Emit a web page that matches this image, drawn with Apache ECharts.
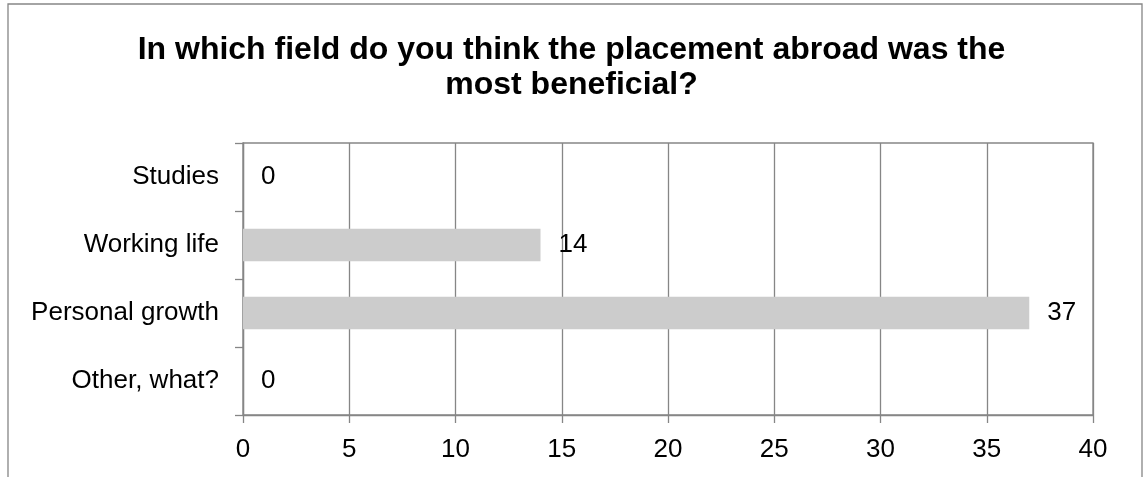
<!DOCTYPE html>
<html>
<head>
<meta charset="utf-8">
<script src="https://cdn.jsdelivr.net/npm/echarts@6/dist/echarts.min.js"></script>
<style>
  html, body { margin: 0; padding: 0; background: #fff; }
  #chart { width: 1143px; height: 477px; }
</style>
</head>
<body>
<div id="chart"></div>
<script>
const titleText = 'In which field do you think the placement abroad was the\nmost beneficial?';
const categories = ['Studies', 'Working life', 'Personal growth', 'Other, what?'];
const values = [0, 14, 37, 0];
const axisMin = 0, axisMax = 40, axisInterval = 5;

const FONT = 'Liberation Sans, Arial, sans-serif';
const GRID_COLOR = '#868686';

const chart = echarts.init(document.getElementById('chart'), null, { renderer: 'canvas' });
chart.setOption({
  animation: false,
  backgroundColor: '#ffffff',
  title: {
    text: titleText,
    left: 'center',
    top: 28,
    textStyle: { fontFamily: FONT, fontSize: 32, fontWeight: 'bold', color: '#000', lineHeight: 35 }
  },
  graphic: [{
    type: 'rect',
    shape: { x: 8, y: 4, width: 1134, height: 520 },
    style: { fill: 'none', stroke: GRID_COLOR, lineWidth: 1.3 },
    silent: true, z: -1
  }],
  grid: {
    left: 243, right: 50, top: 143, bottom: 62,
    show: true, borderColor: GRID_COLOR, borderWidth: 1.3, backgroundColor: 'transparent'
  },
  xAxis: {
    type: 'value',
    min: axisMin, max: axisMax, interval: axisInterval,
    axisLine: { show: true, lineStyle: { color: GRID_COLOR, width: 1.3 } },
    axisTick: { show: true, length: 8, lineStyle: { color: GRID_COLOR, width: 1.3 } },
    axisLabel: { fontFamily: FONT, fontSize: 26, color: '#000', margin: 22 },
    splitLine: { show: true, lineStyle: { color: GRID_COLOR, width: 1.3 } }
  },
  yAxis: {
    type: 'category',
    data: categories,
    inverse: true,
    axisLine: { show: true, lineStyle: { color: GRID_COLOR, width: 1.3 } },
    axisTick: { show: true, length: 8, alignWithLabel: false, lineStyle: { color: GRID_COLOR, width: 1.3 } },
    axisLabel: { fontFamily: FONT, fontSize: 26, color: '#000', margin: 24 },
    splitLine: { show: false }
  },
  series: [{
    type: 'bar',
    data: values,
    barWidth: '48%',
    itemStyle: { color: '#cccccc' },
    label: {
      show: true, position: 'right', distance: 18,
      fontFamily: FONT, fontSize: 26, color: '#000'
    }
  }]
});
</script>
</body>
</html>
